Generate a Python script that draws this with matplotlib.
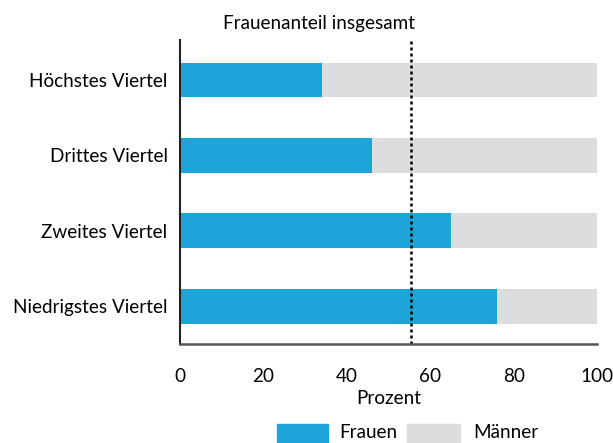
import matplotlib
matplotlib.use("Agg")
import matplotlib.pyplot as plt
from matplotlib.patches import Rectangle

categories = ["Niedrigstes Viertel", "Zweites Viertel", "Drittes Viertel", "Höchstes Viertel"]
frauen = [76, 65, 46, 34]
maenner = [24, 35, 54, 66]
frauenanteil_gesamt = 55.5
xticks = [0, 20, 40, 60, 80, 100]

BLUE = "#1DA5D9"
GREY = "#DCDDDE"
FS = 13.6

plt.rcParams["font.family"] = ["Lato", "DejaVu Sans"]

fig = plt.figure(figsize=(6.13, 4.43), dpi=100)
ax = fig.add_axes([180 / 613, 1 - 344 / 443, 417 / 613, 304 / 443])

y = list(range(len(categories)))
ax.barh(y, frauen, height=0.46, color=BLUE, label="Frauen")
ax.barh(y, maenner, left=frauen, height=0.46, color=GREY, label="Männer")

ax.axvline(frauenanteil_gesamt, color="black", linestyle=(0, (1.2, 1.2)), linewidth=1.8)
fig.text(319 / 613, 1 - 23 / 443, "Frauenanteil insgesamt", ha="center", va="center",
         fontsize=FS)

ax.set_xlim(0, 100)
ax.set_ylim(-0.5, 3.53)
ax.set_xticks(xticks)
ax.set_xticklabels([str(t) for t in xticks])
ax.set_yticks(y)
ax.set_yticklabels(categories)
ax.tick_params(axis="both", length=0, labelsize=FS, colors="black")
ax.tick_params(axis="x", pad=17)
ax.tick_params(axis="y", pad=9)
ax.set_xlabel("Prozent", fontsize=FS, labelpad=4)

for s in ("top", "right"):
    ax.spines[s].set_visible(False)
ax.spines["left"].set_color("#222222")
ax.spines["left"].set_linewidth(1.5)
ax.spines["bottom"].set_color("#555555")
ax.spines["bottom"].set_linewidth(1.8)

# legend row along the bottom edge
fig.add_artist(Rectangle((277 / 613, 0), 51 / 613, 19 / 443, transform=fig.transFigure,
                         color=BLUE, clip_on=False))
fig.add_artist(Rectangle((407 / 613, 0), 53 / 613, 19 / 443, transform=fig.transFigure,
                         color=GREY, clip_on=False))
fig.text(339 / 613, 2 / 443, "Frauen", ha="left", va="bottom", fontsize=FS)
fig.text(473 / 613, 2 / 443, "Männer", ha="left", va="bottom", fontsize=FS)

fig.savefig("out.png", dpi=100)
